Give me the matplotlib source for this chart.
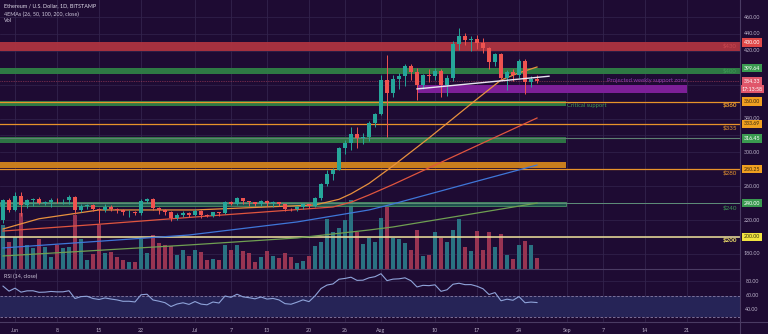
import numpy as np
import pandas as pd
import matplotlib
matplotlib.use("Agg")
import matplotlib.pyplot as plt
import matplotlib.dates as mdates
from matplotlib.transforms import blended_transform_factory

plt.rcParams['font.family'] = ['Lato', 'DejaVu Sans']

# ETH/USD daily candles, Bitstamp, 2020-05-30 .. 2020-08-27
dates = pd.date_range("2020-05-30", "2020-08-27", freq="D")
opens = [220.0, 243.8, 231.6, 247.9, 237.2, 244.0, 244.4, 240.6, 241.4, 244.2,
         243.3, 243.5, 247.4, 231.3, 237.1, 238.3, 233.5, 231.4, 235.3, 233.2,
         231.5, 228.9, 229.0, 227.8, 243.0, 244.4, 234.6, 232.4, 229.6, 221.9,
         226.4, 228.7, 225.7, 230.8, 226.2, 224.9, 229.6, 227.9, 241.4, 239.4,
         246.3, 242.3, 241.0, 239.3, 242.7, 239.8, 240.9, 238.9, 233.6, 232.7,
         235.5, 238.9, 236.6, 245.6, 262.9, 274.9, 279.5, 305.3, 311.3, 321.3,
         316.4, 317.6, 335.1, 345.6, 385.6, 370.5, 386.4, 389.9, 401.6, 394.9,
         379.5, 391.1, 390.3, 395.9, 379.1, 387.9, 428.0, 437.4, 433.4, 433.8,
         429.5, 423.0, 406.5, 416.4, 387.7, 395.1, 391.0, 408.1, 383.4, 386.3]
highs = [245.0, 246.5, 253.0, 253.5, 245.0, 246.0, 247.0, 243.0, 246.5, 246.5,
         245.0, 249.5, 248.5, 239.0, 238.5, 238.5, 234.5, 238.5, 237.5, 234.5,
         232.5, 231.5, 231.0, 245.0, 246.0, 246.0, 235.0, 233.0, 231.0, 228.0,
         230.5, 229.5, 232.5, 232.0, 227.5, 230.0, 229.9, 242.0, 242.0, 247.0,
         246.5, 243.0, 241.5, 244.0, 243.5, 242.0, 241.5, 239.5, 234.5, 236.5,
         240.0, 239.5, 247.0, 264.0, 279.5, 281.0, 306.5, 314.5, 330.0, 330.0,
         323.0, 337.0, 347.0, 392.0, 415.0, 392.0, 393.5, 404.0, 405.0, 400.0,
         393.0, 398.0, 400.0, 398.0, 392.0, 432.0, 447.0, 441.0, 438.0, 439.0,
         435.0, 424.0, 418.0, 417.0, 397.0, 398.0, 410.0, 410.0, 390.0, 392.0]
lows = [217.0, 229.5, 230.5, 225.0, 234.5, 237.0, 239.0, 238.0, 235.0, 240.5,
        239.0, 239.0, 227.0, 229.0, 233.5, 231.0, 217.0, 229.0, 230.5, 228.0,
        225.5, 224.0, 226.5, 226.5, 240.0, 231.5, 227.0, 226.5, 218.5, 220.5,
        223.0, 223.5, 224.5, 222.0, 223.5, 223.5, 224.5, 227.0, 237.5, 238.0,
        239.0, 236.0, 237.0, 236.5, 236.5, 235.5, 237.0, 230.5, 230.5, 231.0,
        233.0, 234.5, 235.5, 244.0, 260.0, 267.0, 279.0, 298.0, 303.0, 305.0,
        310.0, 313.0, 330.0, 344.0, 318.0, 366.0, 375.0, 379.0, 385.0, 362.0,
        375.0, 383.0, 385.0, 365.0, 367.0, 384.0, 421.0, 427.0, 420.0, 422.0,
        418.0, 399.0, 402.0, 386.0, 374.0, 384.0, 388.0, 369.0, 377.0, 382.0]
closes = [243.8, 231.6, 247.9, 237.2, 244.0, 244.4, 240.6, 241.4, 244.2, 243.3,
          243.5, 247.4, 231.3, 237.1, 238.3, 233.5, 231.4, 235.3, 233.2, 231.5,
          228.9, 229.0, 227.8, 243.0, 244.4, 234.6, 232.4, 229.6, 221.9, 226.4,
          228.7, 225.7, 230.8, 226.2, 224.9, 229.6, 227.9, 241.4, 239.4, 246.3,
          242.3, 241.0, 239.3, 242.7, 239.8, 240.9, 238.9, 233.6, 232.7, 235.5,
          238.9, 236.6, 245.6, 262.9, 274.9, 279.5, 305.3, 311.3, 321.3, 316.4,
          317.6, 335.1, 345.6, 385.6, 370.5, 386.4, 389.9, 401.6, 394.9, 379.5,
          391.1, 390.3, 395.9, 379.1, 387.9, 428.0, 437.4, 433.4, 433.8, 429.5,
          423.0, 406.5, 416.4, 387.7, 395.1, 391.0, 408.1, 383.4, 386.3, 384.33]
# volume, thousand ETH
volume_k = [132, 81, 96, 168, 72, 63, 90, 66, 36, 72,
            63, 66, 162, 90, 27, 45, 132, 48, 51, 36,
            27, 21, 21, 90, 48, 102, 78, 72, 69, 42,
            57, 39, 57, 51, 27, 30, 27, 72, 57, 72,
            54, 48, 21, 36, 54, 39, 33, 48, 36, 18,
            24, 39, 69, 81, 150, 111, 123, 147, 207, 111,
            75, 93, 81, 153, 186, 93, 90, 78, 57, 117,
            39, 42, 111, 93, 81, 117, 150, 66, 54, 114,
            57, 111, 66, 105, 42, 30, 72, 84, 72, 33]
prev_close = 220.2

# EMA lines, values taken on selected days
ema26_dates = ["2020-05-30", "2020-06-05", "2020-06-15", "2020-07-01", "2020-07-21",
               "2020-07-25", "2020-07-27", "2020-07-30", "2020-08-03", "2020-08-06",
               "2020-08-09", "2020-08-13", "2020-08-17", "2020-08-21", "2020-08-24",
               "2020-08-27"]
ema26_vals = [209.4, 221.5, 231.9, 231.9, 237.8, 244.5, 251.0, 263.2, 284.0, 300.5,
              317.0, 340.0, 363.0, 385.5, 394.0, 400.9]
ema50_dates = ["2020-05-30", "2020-06-15", "2020-07-01", "2020-07-24", "2020-07-27",
               "2020-07-30", "2020-08-03", "2020-08-12", "2020-08-21", "2020-08-27"]
ema50_vals = [207.0, 215.0, 223.6, 235.4, 241.0, 249.6, 262.0, 291.5, 321.0, 340.6]
ema100_dates = ["2020-05-30", "2020-06-30", "2020-07-18", "2020-07-30", "2020-08-03",
                "2020-08-15", "2020-08-27"]
ema100_vals = [187.0, 202.3, 217.7, 231.9, 239.0, 262.1, 285.0]
ema200_dates = ["2020-05-30", "2020-06-30", "2020-07-18", "2020-07-30", "2020-08-03",
                "2020-08-27"]
ema200_vals = [177.5, 190.5, 198.8, 208.2, 211.8, 240.0]
ema_colors = ['#e8913e', '#e0553f', '#3f76d8', '#6f9f52']

# RSI(14) Wilder averages before the first visible day
rsi_gain0, rsi_loss0 = 5.2, 2.6

# horizontal zones and lines
zone_430 = (419.8, 430.8)
zone_400 = (392.6, 400.1)
zone_weekly = (370.5, 379.6)
zone_360 = (354.8, 361.0)
zone_316 = (311.6, 318.0)
zone_280 = (281.5, 288.5)
zone_240 = (236.6, 241.7)
trend_dates = ["2020-08-07", "2020-08-29"]
trend_prices = [375.0, 390.0]

xtick_dates = ["2020-06-01", "2020-06-08", "2020-06-15", "2020-06-22", "2020-07-01",
               "2020-07-07", "2020-07-13", "2020-07-20", "2020-07-26", "2020-08-01",
               "2020-08-10", "2020-08-17", "2020-08-24", "2020-09-01", "2020-09-07",
               "2020-09-14", "2020-09-21"]
xtick_labels = ["Jun", "8", "15", "22", "Jul", "7", "13", "20", "26", "Aug",
                "10", "17", "24", "Sep", "7", "14", "21"]
price_ticks = [460, 440, 420, 340, 300, 260, 220, 180]
rsi_ticks = [80, 60, 40]
rsi_band = (30, 60)

BG = '#1e0b33'
GRID = '#33244d'
UP, DOWN = '#26a69a', '#ef5350'
TXT = '#b9b0c8'

# ---- RSI ----
closes_arr = np.array(closes)
chg = np.diff(np.r_[prev_close, closes_arr])
ag, al = rsi_gain0, rsi_loss0
rsi = []
for d in chg:
    ag = (ag * 13 + max(d, 0)) / 14
    al = (al * 13 + max(-d, 0)) / 14
    rsi.append(100 - 100 / (1 + ag / al))

# ---- layout ----
W, H = 768, 334
fig = plt.figure(figsize=(W / 100, H / 100), dpi=100, facecolor=BG)
pane_w = 740 / W
vol_ax = fig.add_axes([0, 65 / H, pane_w, 269 / H], facecolor=BG)
ax = fig.add_axes([0, 65 / H, pane_w, 269 / H], facecolor='none', sharex=vol_ax)
rsi_ax = fig.add_axes([0, 12 / H, pane_w, 53 / H], facecolor=BG, sharex=vol_ax)

x = mdates.date2num(dates)
base = mdates.date2num(pd.Timestamp("2020-06-01"))
vol_ax.set_xlim(base - 15 / 6, base + 725 / 6)
ax.set_ylim(162.1, 480.1)
vol_ax.set_ylim(0, 269 * 3)
rsi_ax.set_ylim(23.4, 96.6)

xt = mdates.date2num(pd.to_datetime(xtick_dates))
for a_ in (vol_ax, ax, rsi_ax):
    for sp in a_.spines.values():
        sp.set_visible(False)
    a_.tick_params(left=False, labelleft=False, bottom=False, labelbottom=False)
for t in xt:
    vol_ax.axvline(t, color=GRID, lw=0.6, zorder=0)
    rsi_ax.axvline(t, color=GRID, lw=0.6, zorder=0)
for p in range(180, 480, 20):
    vol_ax.axhline((p - 162.1) / (480.1 - 162.1) * 269 * 3, color=GRID, lw=0.5, zorder=0)
for r in rsi_ticks:
    rsi_ax.axhline(r, color=GRID, lw=0.5, zorder=0)

rsi_ax.set_xticks(xt)
rsi_ax.set_xticklabels(xtick_labels)
rsi_ax.tick_params(bottom=False, labelbottom=True, labelsize=3.8, labelcolor=TXT, pad=0.6)

# ---- volume ----
up = closes_arr >= np.array(opens)
vol_cols = np.where(up, '#2a7282', '#983452')
vol_ax.bar(x, volume_k, width=0.8, color=vol_cols, zorder=1)

# ---- zones ----
def band(lo_hi, color, x1=None, alpha=1.0, ec='none'):
    x0 = vol_ax.get_xlim()[0]
    if x1 is None:
        x1 = vol_ax.get_xlim()[1]
    ax.fill_between([x0, x1], lo_hi[0], lo_hi[1], color=color, alpha=alpha,
                    ec=ec, lw=0.6, zorder=1)

sep1 = mdates.date2num(pd.Timestamp("2020-08-31 20:00"))
band(zone_430, '#ad3440', alpha=0.95)
band(zone_400, '#2f8046', alpha=0.95)
band(zone_360, '#2f8046', x1=sep1, alpha=0.95)
band(zone_316, '#2f8046', x1=sep1, alpha=0.9)
band(zone_280, '#d2841c', x1=sep1, alpha=0.95)
band(zone_240, '#1f5a50', x1=sep1, alpha=0.9, ec='#4f9a6a')
wk0 = mdates.date2num(pd.Timestamp("2020-08-07"))
wk1 = mdates.date2num(pd.Timestamp("2020-09-21"))
ax.fill_between([wk0, wk1], zone_weekly[0], zone_weekly[1], color='#7d1f98', lw=0, zorder=1)

ax.axhline(360, color='#e8932a', lw=0.9, zorder=2)
ax.axhline(333.69, color='#e8932a', lw=0.9, zorder=2)
ax.axhline(316.45, color='#5f7f72', lw=0.8, zorder=1.5)
ax.axhline(280.25, color='#e8932a', lw=0.9, zorder=2)
ax.axhline(240, color='#5f8f7a', lw=0.7, zorder=1.5)
ax.axhline(200, color='#efe29a', lw=1.1, zorder=2)
ax.axhline(closes[-1], color='#e0566a', lw=0.5, ls=(0, (1, 1.5)), alpha=0.8, zorder=2)

# ---- EMAs ----
ema_sets = [(ema26_dates, ema26_vals), (ema50_dates, ema50_vals),
            (ema100_dates, ema100_vals), (ema200_dates, ema200_vals)]
for (ed, ev), c in zip(ema_sets, ema_colors):
    ax.plot(mdates.date2num(pd.to_datetime(ed)), ev, color=c, lw=0.9, zorder=3,
            solid_joinstyle='round')

# ---- candles ----
cols = np.where(up, UP, DOWN)
ax.vlines(x, lows, highs, colors=cols, lw=0.7, zorder=4)
body_lo = np.minimum(opens, closes)
body_h = np.maximum(np.abs(np.array(closes) - np.array(opens)), 0.6)
ax.bar(x, body_h, bottom=body_lo, width=0.7, color=cols, zorder=5)

ax.plot(mdates.date2num(pd.to_datetime(trend_dates)), trend_prices,
        color='#e8e4f0', lw=1.0, zorder=6)

# ---- annotations ----
lab = blended_transform_factory(ax.transAxes, ax.transData)
rx = 737 / 740
ax.text(rx, 426.5, "$430", transform=lab, ha='right', va='center', color='#c8474f', fontsize=4.3)
ax.text(rx, 396.0, "$400", transform=lab, ha='right', va='center', color='#3d9a55', fontsize=4.3)
ax.text(rx, 355.5, "$360", transform=lab, ha='right', va='center', color='#f0a030',
        fontsize=4.5, fontweight='bold')
ax.text(rx, 328.5, "$335", transform=lab, ha='right', va='center', color='#e8962e', fontsize=4.5)
ax.text(rx, 275.5, "$280", transform=lab, ha='right', va='center', color='#e8962e', fontsize=4.5)
ax.text(rx, 234.5, "$240", transform=lab, ha='right', va='center', color='#3d9a55', fontsize=4.5)
ax.text(rx, 195.5, "$200", transform=lab, ha='right', va='center', color='#f2e36a',
        fontsize=4.5, fontweight='bold')
ax.text(wk1, 385.5, "Projected weekly support zone", ha='right', va='center',
        color='#8e3cb0', fontsize=4.2, zorder=7)
ax.text(sep1 + 0.2, 355.0, "Critical support", ha='left', va='center',
        color='#3d9a55', fontsize=4.2, zorder=7)

fig.text(4 / W, 1 - 6 / H, "Ethereum / U.S. Dollar, 1D, BITSTAMP", color='#e0dcea',
         fontsize=3.9, va='center', ha='left')
fig.text(4 / W, 1 - 14 / H, "4EMAs (26, 50, 100, 200, close)", color='#cfc8dc',
         fontsize=3.9, va='center', ha='left')
fig.text(4 / W, 1 - 21 / H, "Vol", color='#cfc8dc', fontsize=3.9, va='center', ha='left')
fig.text(4 / W, 1 - 276 / H, "RSI (14, close)", color='#cfc8dc', fontsize=3.9,
         va='center', ha='left')

# ---- right price scale ----
ax_x = 752 / 740
for p in price_ticks:
    ax.text(ax_x, p, f"{p:.2f}", transform=lab, ha='center', va='center',
            color=TXT, fontsize=3.8, clip_on=False)
rlab = blended_transform_factory(rsi_ax.transAxes, rsi_ax.transData)
for r in rsi_ticks:
    rsi_ax.text(ax_x, r, f"{r:.2f}", transform=rlab, ha='center', va='center',
                color=TXT, fontsize=3.8, clip_on=False)

tags = [(430.0, '430.00', '#e04848', 'white'),
        (399.64, '399.64', '#3a9a50', 'white'),
        (closes[-1], f"{closes[-1]:.2f}", '#e0566a', 'white'),
        (360.0, '360.00', '#f0a020', '#3a2a10'),
        (333.69, '333.69', '#f0a020', '#3a2a10'),
        (316.45, '316.45', '#3a9a50', 'white'),
        (280.25, '280.25', '#f0a020', '#3a2a10'),
        (240.0, '240.00', '#3a9a50', 'white'),
        (200.0, '200.00', '#f2e440', '#3a3410')]
for p, s, fc, tc in tags:
    ax.text(ax_x, p, s, transform=lab, ha='center', va='center', color=tc,
            fontsize=3.8, clip_on=False,
            bbox=dict(boxstyle='square,pad=0.35', fc=fc, ec='none'))
ax.text(ax_x, closes[-1] - 9.5, "17:13:58", transform=lab, ha='center', va='center',
        color='white', fontsize=3.8, clip_on=False,
        bbox=dict(boxstyle='square,pad=0.35', fc='#e0566a', ec='none'))

# ---- RSI pane ----
rsi_ax.axhspan(rsi_band[0], rsi_band[1], color='#262457', lw=0, zorder=0.5)
for r in rsi_band:
    rsi_ax.axhline(r, color='#8a7ea6', lw=0.6, ls=(0, (3, 2)), zorder=1)
rsi_ax.plot(x, rsi, color='#8fa3d9', lw=0.8, zorder=3)

# pane separators
sep_c = '#4a3b63'
fig.add_artist(plt.Line2D([0, pane_w], [65 / H, 65 / H], color=sep_c, lw=0.8))
fig.add_artist(plt.Line2D([0, 1], [12 / H, 12 / H], color=sep_c, lw=0.8))
fig.add_artist(plt.Line2D([pane_w, pane_w], [0, 1], color=sep_c, lw=0.8))

fig.savefig("out.png", dpi=100, facecolor=BG)
